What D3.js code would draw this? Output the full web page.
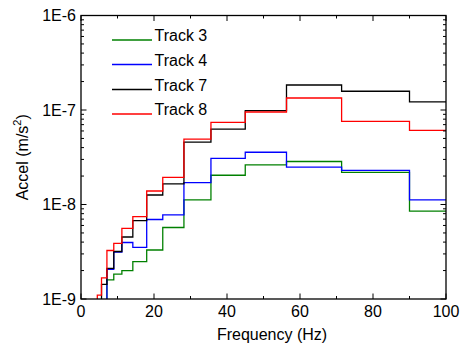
<!DOCTYPE html>
<html>
<head>
<meta charset="utf-8">
<script src="https://cdn.jsdelivr.net/npm/d3@7"></script>
<style>
  html, body { margin: 0; padding: 0; background: #fff; }
  svg { display: block; font-family: "Liberation Sans", Arial, sans-serif; }
</style>
</head>
<body>
<svg id="chart" width="472" height="347"></svg>
<script>
// Third-octave band centres (Hz) and the band edges used for the step plot
const bandCenters = [5, 6.3, 8, 10, 12.5, 16, 20, 25, 31.5, 40, 50, 63, 80, 100];
const bandEdges = [4.47, 5.62, 7.1, 8.98, 11.2, 14.2, 18, 22.4, 28.2, 35.6, 45, 56.3, 71.4, 90, 112];

// Band acceleration levels (m/s^2); null = below the plotted range
const track3 = [null, null, 1.59e-9, 1.83e-9, 2.00e-9, 2.48e-9, 3.30e-9, 5.71e-9, 1.12e-8, 2.04e-8, 2.62e-8, 2.85e-8, 2.19e-8, 8.5e-9];
const track4 = [null, null, 2.06e-9, 3.14e-9, 3.96e-9, 3.52e-9, 6.94e-9, 7.78e-9, 1.70e-8, 3.08e-8, 3.57e-8, 2.48e-8, 2.30e-8, 1.12e-8];
const track7 = [null, 1.43e-9, 2.11e-9, 3.18e-9, 4.53e-9, 6.74e-9, 1.26e-8, 1.65e-8, 4.58e-8, 6.29e-8, 9.84e-8, 1.84e-7, 1.58e-7, 1.22e-7];
const track8 = [1.10e-9, 1.67e-9, 3.26e-9, 3.88e-9, 5.60e-9, 7.46e-9, 1.39e-8, 1.94e-8, 4.93e-8, 7.41e-8, 9.52e-8, 1.34e-7, 7.59e-8, 6.10e-8];

const seriesNames = ["Track 3", "Track 4", "Track 7", "Track 8"];
const seriesColors = ["#008000", "#0000ff", "#000000", "#ff0000"];
const seriesValues = [track3, track4, track7, track8];

const xTicks = [0, 20, 40, 60, 80, 100];
const xMinorTicks = [10, 30, 50, 70, 90];
const yTicks = [1e-9, 1e-8, 1e-7, 1e-6];
const yTickLabels = ["1E-9", "1E-8", "1E-7", "1E-6"];

const svg = d3.select("#chart");
const m = { left: 81, right: 446, top: 15.5, bottom: 299 };

const x = d3.scaleLinear().domain([0, 100]).range([m.left, m.right]);
const y = d3.scaleLog().domain([1e-9, 1e-6]).range([m.bottom, m.top]);

// minor log ticks 2..9 within each decade
const yMinor = [];
for (let e = -9; e < -6; e++) for (let k = 2; k <= 9; k++) yMinor.push(k * Math.pow(10, e));

svg.append("defs").append("clipPath").attr("id", "plotClip")
  .append("rect")
  .attr("x", m.left).attr("y", m.top)
  .attr("width", m.right - m.left).attr("height", m.bottom - m.top);

// Step paths: horizontal across each band, vertical joins between bands
const line = d3.line().x(d => x(d[0])).y(d => y(d[1]));
function stepPoints(vals) {
  const pts = [];
  let started = false;
  vals.forEach((v, i) => {
    if (v == null) return;
    if (!started) { pts.push([bandEdges[i], 1e-9 * 0.5]); started = true; }
    pts.push([bandEdges[i], v]);
    pts.push([bandEdges[i + 1], v]);
  });
  return pts;
}

const plot = svg.append("g").attr("clip-path", "url(#plotClip)");
seriesValues.forEach((vals, i) => {
  plot.append("path")
    .attr("d", line(stepPoints(vals)))
    .attr("fill", "none")
    .attr("stroke", seriesColors[i])
    .attr("stroke-width", 1.3);
});

// Axes: ticks point inward on all four sides
const axisG = svg.append("g").attr("stroke", "#000").attr("stroke-width", 1);
const majorLen = 5.5, minorLen = 3;
xTicks.concat(xMinorTicks).forEach(t => {
  const len = xTicks.includes(t) ? majorLen : minorLen;
  axisG.append("line").attr("x1", x(t)).attr("x2", x(t)).attr("y1", m.bottom).attr("y2", m.bottom - len);
  axisG.append("line").attr("x1", x(t)).attr("x2", x(t)).attr("y1", m.top).attr("y2", m.top + len);
});
yTicks.concat(yMinor).forEach(t => {
  const len = yTicks.includes(t) ? majorLen : minorLen;
  axisG.append("line").attr("y1", y(t)).attr("y2", y(t)).attr("x1", m.left).attr("x2", m.left + len);
  axisG.append("line").attr("y1", y(t)).attr("y2", y(t)).attr("x1", m.right).attr("x2", m.right - len);
});
svg.append("rect")
  .attr("x", m.left).attr("y", m.top)
  .attr("width", m.right - m.left).attr("height", m.bottom - m.top)
  .attr("fill", "none").attr("stroke", "#000").attr("stroke-width", 1.3);

// Tick labels
svg.append("g").selectAll("text").data(xTicks).join("text")
  .attr("x", d => x(d)).attr("y", 317)
  .attr("text-anchor", "middle").attr("font-size", 16).attr("fill", "#000")
  .text(d => d);
svg.append("g").selectAll("text").data(yTicks).join("text")
  .attr("x", 76).attr("y", d => y(d)).attr("dy", "0.36em")
  .attr("text-anchor", "end").attr("font-size", 16).attr("fill", "#000")
  .text((d, i) => yTickLabels[i]);

// Axis titles
svg.append("text")
  .attr("x", 272).attr("y", 340)
  .attr("text-anchor", "middle").attr("font-size", 16).attr("fill", "#000")
  .text("Frequency (Hz)");
const yTitle = svg.append("text")
  .attr("transform", `translate(28,${(m.top + m.bottom) / 2}) rotate(-90)`)
  .attr("text-anchor", "middle").attr("font-size", 16).attr("fill", "#000");
yTitle.append("tspan").text("Accel (m/s");
yTitle.append("tspan").attr("font-size", 11).attr("dy", -7).text("2");
yTitle.append("tspan").attr("dy", 7).text(")");

// Legend
const legendY = [40, 64.5, 89.5, 114];
const legend = svg.append("g");
seriesNames.forEach((name, i) => {
  legend.append("line")
    .attr("x1", 112).attr("x2", 152)
    .attr("y1", legendY[i]).attr("y2", legendY[i])
    .attr("stroke", seriesColors[i]).attr("stroke-width", 1.3);
  legend.append("text")
    .attr("x", 154.5).attr("y", legendY[i] + 1)
    .attr("font-size", 16).attr("fill", "#000")
    .text(name);
});
</script>
</body>
</html>
